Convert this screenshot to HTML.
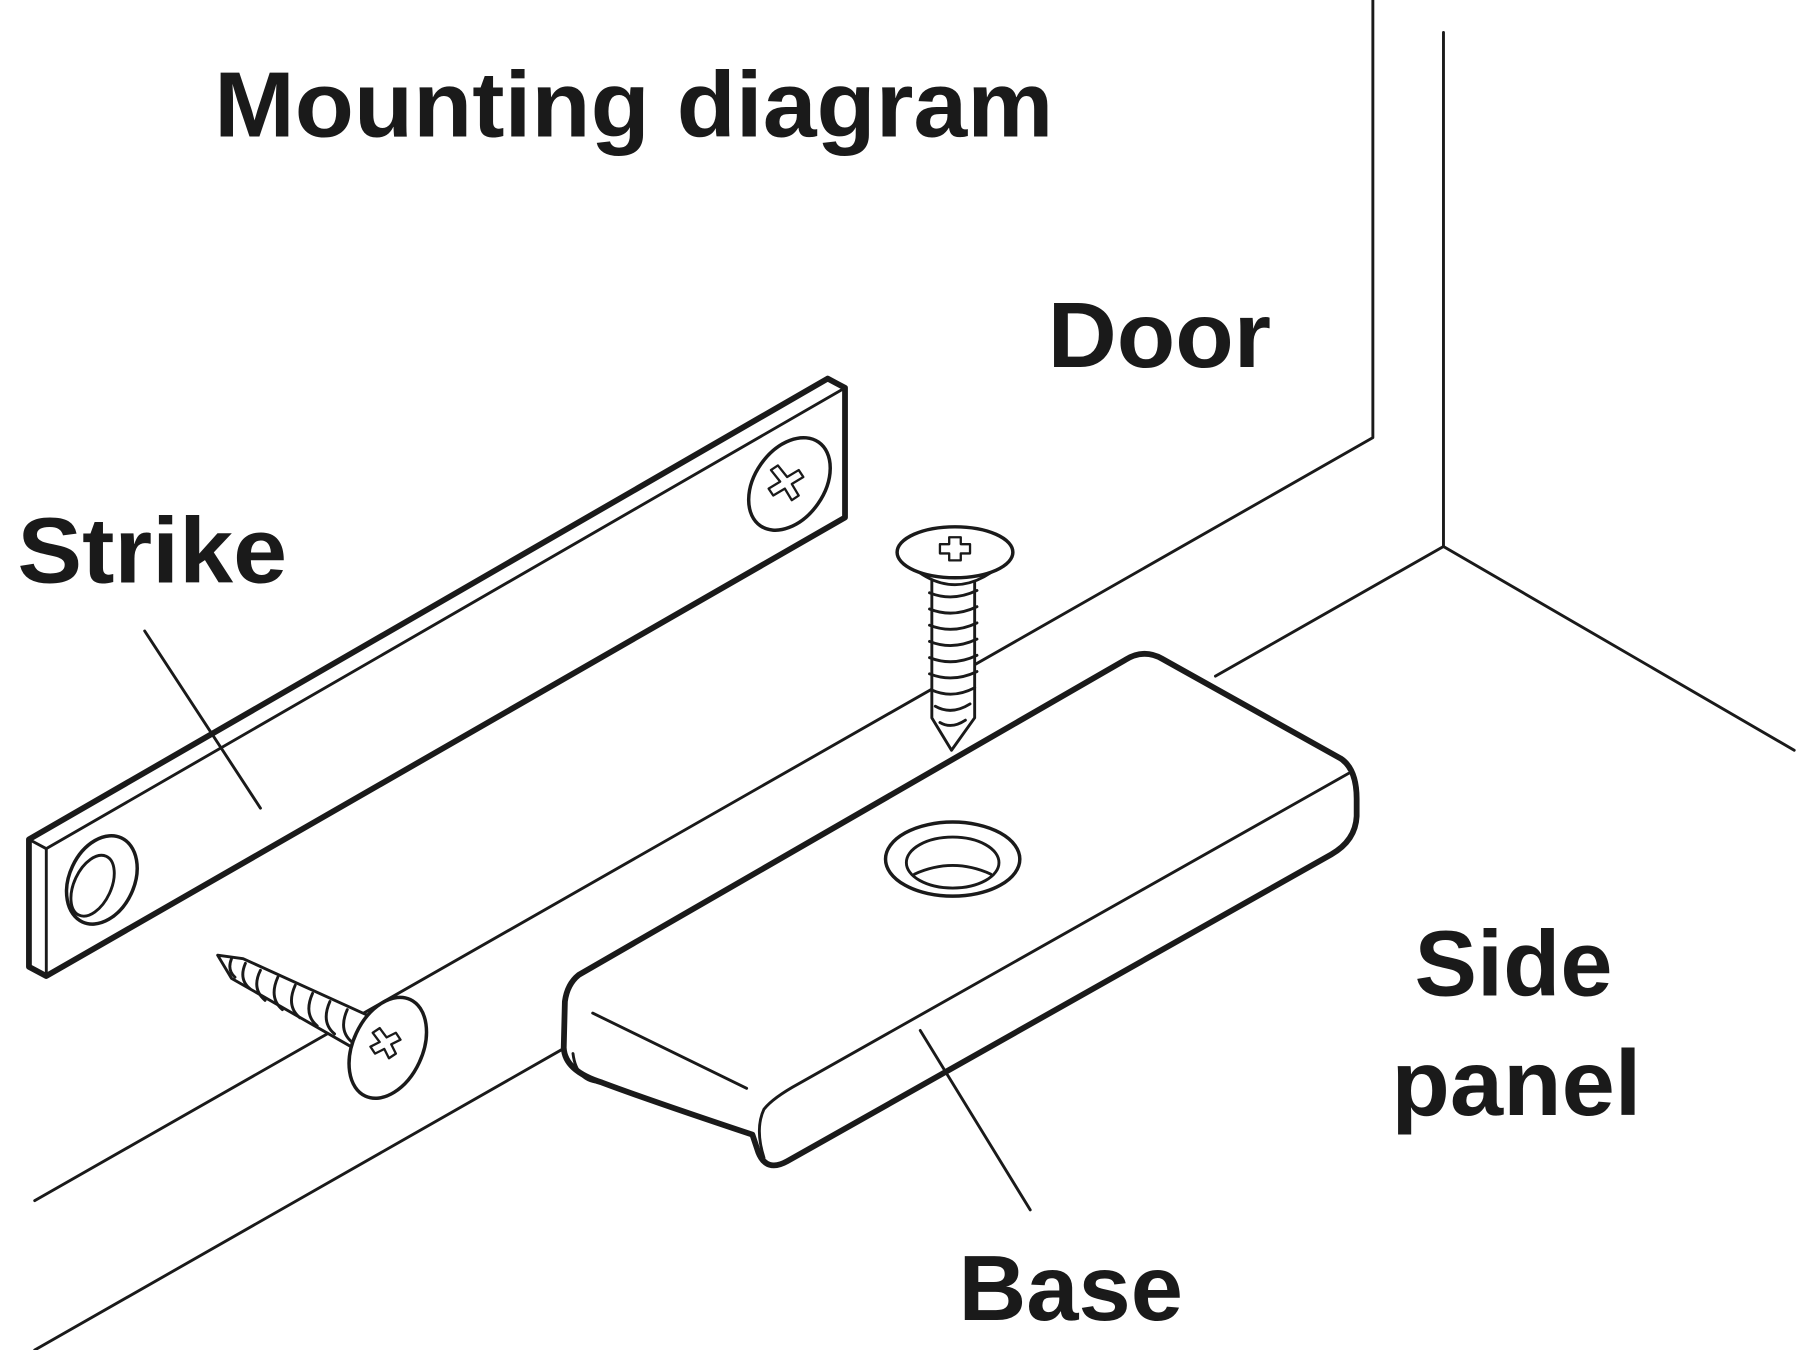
<!DOCTYPE html>
<html><head><meta charset="utf-8"><style>html,body{margin:0;padding:0;background:#fff}svg{display:block}</style></head>
<body>
<svg width="1800" height="1350" viewBox="0 0 1555 1166" preserveAspectRatio="none" xmlns="http://www.w3.org/2000/svg">
<rect width="1555" height="1166" fill="#fff"/>
<g fill="none" stroke="#1a1a1a" stroke-width="2.5" stroke-linejoin="round" stroke-linecap="round">
<polyline points="1186,0 1186,378 30,1037"/>
<polyline points="1247,28 1247,472 1550,648"/>
<line x1="1247" y1="472" x2="1050" y2="584"/>
<line x1="488" y1="905" x2="30" y2="1166"/>
<polygon points="25,725 715,327 730,335 730,447 40,843 25,835" fill="#fff" stroke-width="5"/>
<polyline points="25,725 40,733 730,335"/>
<line x1="40" y1="733" x2="40" y2="843"/>
<ellipse cx="88" cy="760" rx="28" ry="40" transform="rotate(25 88 760)" stroke-width="3"/>
<ellipse cx="80" cy="765" rx="16" ry="28" transform="rotate(25 80 765)"/>
<ellipse cx="682" cy="418" rx="30" ry="44" transform="rotate(35 682 418)" stroke-width="3"/>
<path d="M672,402 l8,10 l10,-6 l4,6 l-10,6 l6,10 l-6,4 l-6,-10 l-10,6 l-4,-6 l10,-6 l-8,-10 z" stroke-width="2"/>
<line x1="125" y1="545" x2="225" y2="698"/>
<path d="M500,842 L972,570 Q988,560 1004,569 L1158,655 Q1172,664 1172,690 L1172,705 Q1171,726 1150,738 L680,1003 Q662,1013 655,995 L650,980 Q560,950 520,935 Q488,925 487,905 L488,865 Q490,850 500,842 Z" fill="#fff" stroke-width="5"/>
<path d="M660,1000 Q652,975 660,958 Q668,948 690,936 L1165,668"/>
<line x1="512" y1="875" x2="645" y2="940"/>
<path d="M495,910 Q498,935 520,935"/>
<ellipse cx="823" cy="742" rx="58" ry="32" stroke-width="3"/>
<ellipse cx="823" cy="745" rx="40" ry="22"/>
<path d="M790,755 Q823,740 856,755"/>
<line x1="795" y1="890" x2="890" y2="1045"/>
<path d="M805,500 L805,620 L822,648 L842,620 L842,500" fill="#fff"/>
<g stroke-width="2.5">
<path d="M803,512 q20,8 41,-2 M803,526 q20,8 41,-2 M803,540 q20,8 41,-2 M803,554 q20,8 41,-2 M803,568 q20,8 41,-2 M803,582 q20,8 41,-2 M805,596 q18,8 37,-2 M808,610 q14,8 30,-2 M812,624 q10,6 22,-2"/>
</g>
<path d="M776,478 Q800,505 825,505 Q850,505 875,478" fill="#fff"/>
<ellipse cx="825" cy="477" rx="50" ry="22" fill="#fff" stroke-width="3"/>
<path d="M812,470 h8 v-6 h10 v6 h8 v8 h-8 v6 h-10 v-6 h-8 z" stroke-width="2"/>
<path d="M320,878 L210,828 L188,825 L200,845 L305,905" fill="#fff"/>
<path d="M300,872 q-8,18 4,28 M285,865 q-8,18 4,28 M270,858 q-8,18 4,28 M255,851 q-8,18 4,28 M240,844 q-8,18 4,28 M225,838 q-8,16 4,26 M212,832 q-6,14 4,22 M200,828 q-4,10 3,16"/>
<ellipse cx="335" cy="905" rx="30" ry="46" transform="rotate(25 335 905)" fill="#fff" stroke-width="3"/>
<path d="M328,888 l6,8 l8,-4 l4,6 l-8,4 l4,8 l-6,4 l-4,-8 l-8,4 l-4,-6 l8,-4 l-6,-8 z" stroke-width="2"/>
</g>
<g font-family="Liberation Sans, Arial, sans-serif" font-weight="bold" font-size="80" fill="#1a1a1a" lengthAdjust="spacingAndGlyphs">
<text x="185" y="118" textLength="725" lengthAdjust="spacingAndGlyphs">Mounting diagram</text>
<text x="905" y="317" textLength="193" lengthAdjust="spacingAndGlyphs">Door</text>
<text x="15" y="503" textLength="233" lengthAdjust="spacingAndGlyphs">Strike</text>
<text x="1222" y="860" textLength="171" lengthAdjust="spacingAndGlyphs">Side</text>
<text x="1202" y="963" textLength="216" lengthAdjust="spacingAndGlyphs">panel</text>
<text x="828" y="1140" textLength="194" lengthAdjust="spacingAndGlyphs">Base</text>
</g>
</svg>
</body></html>
